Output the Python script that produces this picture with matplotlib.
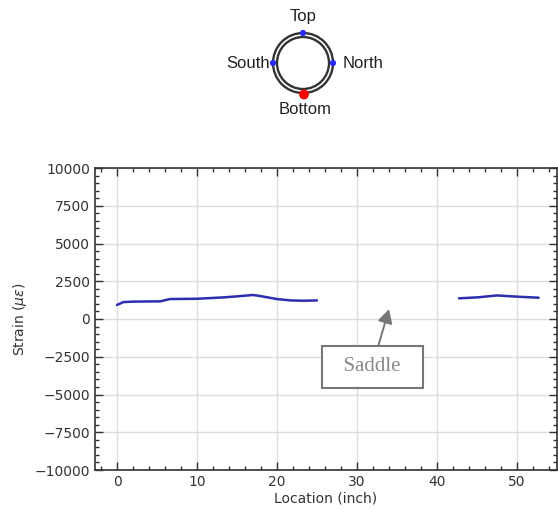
import matplotlib
matplotlib.use("Agg")
import matplotlib.pyplot as plt
from matplotlib.patches import Circle
from matplotlib.ticker import MultipleLocator

# ---- data ----
loc_a = [0.0, 0.8, 2.0, 3.5, 5.4, 6.6, 8.0, 10.0, 11.5, 13.3, 15.0, 17.0, 17.9, 20.0, 21.7, 23.3, 25.0]
strain_a = [930, 1120, 1150, 1160, 1170, 1320, 1330, 1340, 1380, 1430, 1500, 1590, 1520, 1320, 1230, 1210, 1230]
loc_b = [42.75, 45.0, 47.5, 50.0, 52.7]
strain_b = [1370, 1430, 1560, 1480, 1410]

xticks = [0, 10, 20, 30, 40, 50]
yticks = [-10000, -7500, -5000, -2500, 0, 2500, 5000, 7500, 10000]

annot_text = "Saddle"
annot_xy = (34.0, 650)
annot_text_xy = (31.9, -3150)

positions = ["Top", "South", "North", "Bottom"]

fig = plt.figure(figsize=(5.58, 5.12), dpi=100)

# ---- main axes ----
ax = fig.add_axes([95 / 558, 1 - 470 / 512, 462 / 558, 302 / 512])
line_color = "#2d2db0"
ax.plot(loc_a, strain_a, color=line_color, lw=1.8, solid_capstyle="round")
ax.plot(loc_b, strain_b, color=line_color, lw=1.8, solid_capstyle="round")

ax.set_xlim(-2.75, 55.0)
ax.set_ylim(-10000, 10000)
ax.set_xticks(xticks)
ax.set_yticks(yticks)
ax.set_yticklabels([str(v).replace("-", "\u2212") for v in yticks])
ax.xaxis.set_minor_locator(MultipleLocator(2))
ax.yaxis.set_minor_locator(MultipleLocator(500))
ax.tick_params(which="both", direction="in", top=True, right=True,
               colors="#333333", labelsize=10, width=1.0)
ax.tick_params(which="major", length=6)
ax.tick_params(which="minor", length=3)
for s in ax.spines.values():
    s.set_color("#333333")
    s.set_linewidth(1.2)
ax.grid(True, which="major", color="#dddddd", lw=1.0)
ax.set_axisbelow(True)
ax.set_xlabel("Location (inch)", fontsize=10, color="#333333", labelpad=2)
ax.set_ylabel(r"Strain ($\mu\varepsilon$)", fontsize=10, color="#333333", labelpad=4)

ax.annotate("  " + annot_text + "  ", xy=annot_xy, xytext=annot_text_xy,
            ha="center", va="center", fontsize=15, color="#888888",
            family="Liberation Serif",
            bbox=dict(boxstyle="square,pad=0.55", fc="white", ec="#777777", lw=1.5),
            arrowprops=dict(arrowstyle="-|>,head_length=0.55,head_width=0.3",
                            color="#777777", lw=1.4, shrinkA=0, shrinkB=0))

# ---- pipe position diagram ----
dax = fig.add_axes([200 / 558, 1 - 125 / 512, 200 / 558, 125 / 512])
dax.set_xlim(200, 400)
dax.set_ylim(125, 0)
dax.set_aspect("equal")
dax.axis("off")
cx, cy, r_out, r_in = 303, 63, 30, 26
for r in (r_out, r_in):
    dax.add_patch(Circle((cx, cy), r, fill=False, ec="#333333", lw=1.7))
for dx, dy in [(0, -r_out), (-r_out, 0), (r_out, 0)]:
    dax.add_patch(Circle((cx + dx, cy + dy), 2.4, color="#2a2aff", zorder=3))
dax.add_patch(Circle((cx + 1, cy + r_out + 1.5), 4.2, color="#ff0000", zorder=3))
lab_kw = dict(fontsize=12, color="#222222", family="Liberation Sans")
dax.text(cx, cy - r_out - 16, positions[0], ha="center", va="center", **lab_kw)
dax.text(cx - r_out - 3, cy, positions[1], ha="right", va="center", **lab_kw)
dax.text(cx + r_out + 10, cy, positions[2], ha="left", va="center", **lab_kw)
dax.text(cx + 2, cy + r_out + 16, positions[3], ha="center", va="center", **lab_kw)

fig.savefig("out.png", dpi=100)
